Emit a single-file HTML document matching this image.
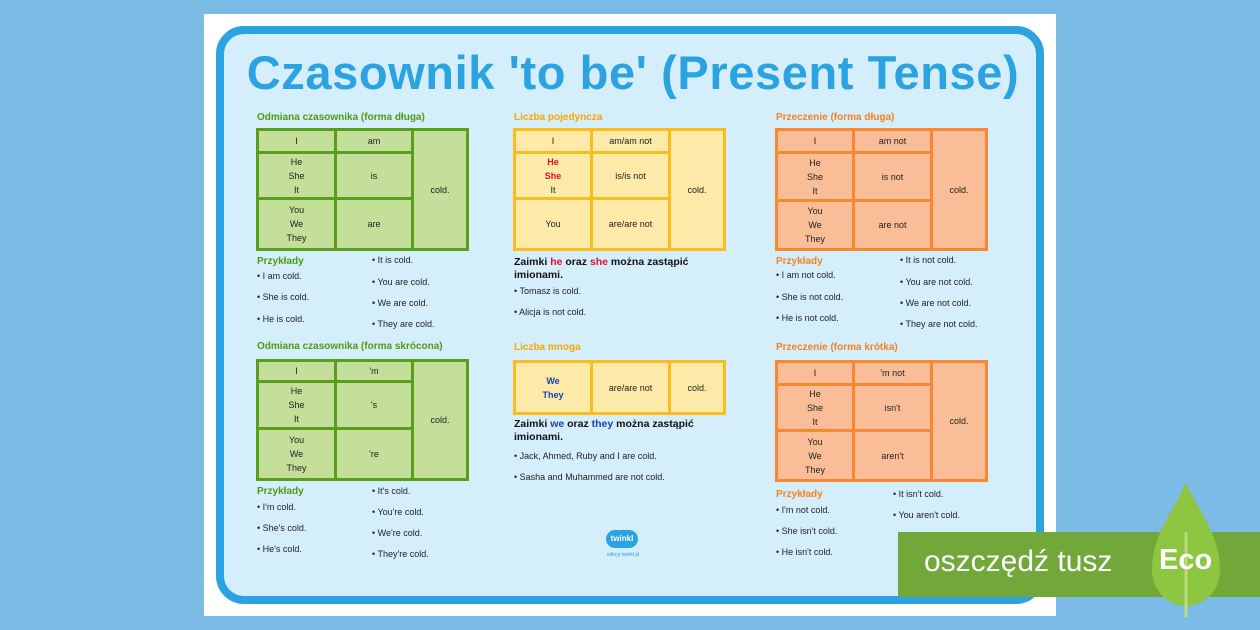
<!DOCTYPE html><html><head><meta charset="utf-8"><style>
*{margin:0;padding:0;box-sizing:border-box}
body{width:1260px;height:630px;overflow:hidden;background:#7dbbe7;font-family:"Liberation Sans",sans-serif;position:relative}
.a{position:absolute}
.t{font-size:9px;color:#222;white-space:nowrap}
.h{font-size:10px;font-weight:bold;white-space:nowrap}
.tb{position:absolute;border:3px solid;}
.c{position:absolute;display:flex;align-items:center;justify-content:center;text-align:center;font-size:9px;line-height:14px;color:#222}
</style></head><body>
<div class="a" style="left:204px;top:14px;width:852px;height:602px;background:#fff"></div>
<div class="a" style="left:216px;top:26px;width:828px;height:578px;border:8px solid #2aa3e0;border-radius:28px;background:#d5eefb"></div>
<div class="a" style="left:216px;top:45px;width:834px;text-align:center;font-size:47px;letter-spacing:0.6px;font-weight:bold;color:#2aa3e0;white-space:nowrap">Czasownik 'to be' (Present Tense)</div>

<div class="h a" style="left:257px;top:112px;color:#4f9a10">Odmiana czasownika (forma długa)</div>
<div class="tb" style="left:256px;top:128px;width:213px;height:123px;border-color:#5a9e1e;background:#c3df9a"></div>
<div class="a" style="left:334px;top:128px;width:3px;height:123px;background:#5a9e1e"></div>
<div class="a" style="left:411px;top:128px;width:3px;height:123px;background:#5a9e1e"></div>
<div class="a" style="left:256px;top:151px;width:157px;height:3px;background:#5a9e1e"></div>
<div class="a" style="left:256px;top:197px;width:157px;height:3px;background:#5a9e1e"></div>
<div class="c" style="left:259px;top:131px;width:75px;height:20px">I</div>
<div class="c" style="left:337px;top:131px;width:74px;height:20px">am</div>
<div class="c" style="left:259px;top:154px;width:75px;height:43px">He<br>She<br>It</div>
<div class="c" style="left:337px;top:154px;width:74px;height:43px">is</div>
<div class="c" style="left:259px;top:200px;width:75px;height:48px">You<br>We<br>They</div>
<div class="c" style="left:337px;top:200px;width:74px;height:48px">are</div>
<div class="c" style="left:414px;top:131px;width:52px;height:117px">cold.</div>
<div class="h a" style="left:257px;top:256px;color:#4f9a10">Przykłady</div>
<div class="t a" style="left:257px;top:271px">• I am cold.</div>
<div class="t a" style="left:257px;top:292px">• She is cold.</div>
<div class="t a" style="left:257px;top:314px">• He is cold.</div>
<div class="t a" style="left:372px;top:255px">• It is cold.</div>
<div class="t a" style="left:372px;top:277px">• You are cold.</div>
<div class="t a" style="left:372px;top:298px">• We are cold.</div>
<div class="t a" style="left:372px;top:319px">• They are cold.</div>

<div class="h a" style="left:257px;top:341px;color:#4f9a10">Odmiana czasownika (forma skrócona)</div>
<div class="tb" style="left:256px;top:359px;width:213px;height:122px;border-color:#5a9e1e;background:#c3df9a"></div>
<div class="a" style="left:334px;top:359px;width:3px;height:122px;background:#5a9e1e"></div>
<div class="a" style="left:411px;top:359px;width:3px;height:122px;background:#5a9e1e"></div>
<div class="a" style="left:256px;top:380px;width:157px;height:3px;background:#5a9e1e"></div>
<div class="a" style="left:256px;top:427px;width:157px;height:3px;background:#5a9e1e"></div>
<div class="c" style="left:259px;top:362px;width:75px;height:18px">I</div>
<div class="c" style="left:337px;top:362px;width:74px;height:18px">'m</div>
<div class="c" style="left:259px;top:383px;width:75px;height:44px">He<br>She<br>It</div>
<div class="c" style="left:337px;top:383px;width:74px;height:44px">'s</div>
<div class="c" style="left:259px;top:430px;width:75px;height:48px">You<br>We<br>They</div>
<div class="c" style="left:337px;top:430px;width:74px;height:48px">'re</div>
<div class="c" style="left:414px;top:362px;width:52px;height:116px">cold.</div>
<div class="h a" style="left:257px;top:486px;color:#4f9a10">Przykłady</div>
<div class="t a" style="left:257px;top:502px">• I'm cold.</div>
<div class="t a" style="left:257px;top:523px">• She's cold.</div>
<div class="t a" style="left:257px;top:544px">• He's cold.</div>
<div class="t a" style="left:372px;top:486px">• It's cold.</div>
<div class="t a" style="left:372px;top:507px">• You're cold.</div>
<div class="t a" style="left:372px;top:528px">• We're cold.</div>
<div class="t a" style="left:372px;top:549px">• They're cold.</div>

<div class="h a" style="left:514px;top:112px;color:#f5a800">Liczba pojedyncza</div>
<div class="tb" style="left:513px;top:128px;width:213px;height:123px;border-color:#fbbd1e;background:#fde9a8"></div>
<div class="a" style="left:590px;top:128px;width:3px;height:123px;background:#fbbd1e"></div>
<div class="a" style="left:668px;top:128px;width:3px;height:123px;background:#fbbd1e"></div>
<div class="a" style="left:513px;top:151px;width:157px;height:3px;background:#fbbd1e"></div>
<div class="a" style="left:513px;top:197px;width:157px;height:3px;background:#fbbd1e"></div>
<div class="c" style="left:516px;top:131px;width:74px;height:20px">I</div>
<div class="c" style="left:593px;top:131px;width:75px;height:20px">am/am not</div>
<div class="c" style="left:516px;top:154px;width:74px;height:43px"><span><b style="color:#e0102a">He<br>She</b><br>It</span></div>
<div class="c" style="left:593px;top:154px;width:75px;height:43px">is/is not</div>
<div class="c" style="left:516px;top:200px;width:74px;height:48px">You</div>
<div class="c" style="left:593px;top:200px;width:75px;height:48px">are/are not</div>
<div class="c" style="left:671px;top:131px;width:52px;height:117px">cold.</div>
<div class="a" style="left:514px;top:256px;font-size:10.5px;font-weight:bold;line-height:13px;color:#111">Zaimki <span style="color:#e0102a">he</span> oraz <span style="color:#e0102a">she</span> można zastąpić<br>imionami.</div>
<div class="t a" style="left:514px;top:286px">• Tomasz is cold.</div>
<div class="t a" style="left:514px;top:307px">• Alicja is not cold.</div>

<div class="h a" style="left:514px;top:342px;color:#f5a800">Liczba mnoga</div>
<div class="tb" style="left:513px;top:360px;width:213px;height:55px;border-color:#fbbd1e;background:#fde9a8"></div>
<div class="a" style="left:590px;top:360px;width:3px;height:55px;background:#fbbd1e"></div>
<div class="a" style="left:668px;top:360px;width:3px;height:55px;background:#fbbd1e"></div>
<div class="c" style="left:516px;top:363px;width:74px;height:49px"><b style="color:#1a3fb0">We<br>They</b></div>
<div class="c" style="left:593px;top:363px;width:75px;height:49px">are/are not</div>
<div class="c" style="left:671px;top:363px;width:52px;height:49px">cold.</div>
<div class="a" style="left:514px;top:418px;font-size:10.5px;font-weight:bold;line-height:13px;color:#111">Zaimki <span style="color:#1a3fb0">we</span> oraz <span style="color:#1a3fb0">they</span> można zastąpić<br>imionami.</div>
<div class="t a" style="left:514px;top:451px">• Jack, Ahmed, Ruby and I are cold.</div>
<div class="t a" style="left:514px;top:472px">• Sasha and Muhammed are not cold.</div>
<div class="a" style="left:606px;top:530px;width:32px;height:18px;border-radius:9px;background:#2aa3e0;color:#fff;font-size:8px;font-weight:bold;text-align:center;line-height:18px">twinkl</div>
<div class="a" style="left:598px;top:552px;width:50px;text-align:center;font-size:5px;color:#2aa3e0">odkryj twinkl.pl</div>

<div class="h a" style="left:776px;top:112px;color:#f58220">Przeczenie (forma długa)</div>
<div class="tb" style="left:775px;top:128px;width:213px;height:123px;border-color:#f7882f;background:#f9be97"></div>
<div class="a" style="left:852px;top:128px;width:3px;height:123px;background:#f7882f"></div>
<div class="a" style="left:930px;top:128px;width:3px;height:123px;background:#f7882f"></div>
<div class="a" style="left:775px;top:151px;width:157px;height:3px;background:#f7882f"></div>
<div class="a" style="left:775px;top:199px;width:157px;height:3px;background:#f7882f"></div>
<div class="c" style="left:778px;top:131px;width:74px;height:20px">I</div>
<div class="c" style="left:855px;top:131px;width:75px;height:20px">am not</div>
<div class="c" style="left:778px;top:154px;width:74px;height:45px">He<br>She<br>It</div>
<div class="c" style="left:855px;top:154px;width:75px;height:45px">is not</div>
<div class="c" style="left:778px;top:202px;width:74px;height:46px">You<br>We<br>They</div>
<div class="c" style="left:855px;top:202px;width:75px;height:46px">are not</div>
<div class="c" style="left:933px;top:131px;width:52px;height:117px">cold.</div>
<div class="h a" style="left:776px;top:256px;color:#f58220">Przykłady</div>
<div class="t a" style="left:776px;top:270px">• I am not cold.</div>
<div class="t a" style="left:776px;top:292px">• She is not cold.</div>
<div class="t a" style="left:776px;top:313px">• He is not cold.</div>
<div class="t a" style="left:900px;top:255px">• It is not cold.</div>
<div class="t a" style="left:900px;top:277px">• You are not cold.</div>
<div class="t a" style="left:900px;top:298px">• We are not cold.</div>
<div class="t a" style="left:900px;top:319px">• They are not cold.</div>

<div class="h a" style="left:776px;top:342px;color:#f58220">Przeczenie (forma krótka)</div>
<div class="tb" style="left:775px;top:360px;width:213px;height:122px;border-color:#f7882f;background:#f9be97"></div>
<div class="a" style="left:852px;top:360px;width:3px;height:122px;background:#f7882f"></div>
<div class="a" style="left:930px;top:360px;width:3px;height:122px;background:#f7882f"></div>
<div class="a" style="left:775px;top:383px;width:157px;height:3px;background:#f7882f"></div>
<div class="a" style="left:775px;top:429px;width:157px;height:3px;background:#f7882f"></div>
<div class="c" style="left:778px;top:363px;width:74px;height:20px">I</div>
<div class="c" style="left:855px;top:363px;width:75px;height:20px">'m not</div>
<div class="c" style="left:778px;top:386px;width:74px;height:43px">He<br>She<br>It</div>
<div class="c" style="left:855px;top:386px;width:75px;height:43px">isn't</div>
<div class="c" style="left:778px;top:432px;width:74px;height:47px">You<br>We<br>They</div>
<div class="c" style="left:855px;top:432px;width:75px;height:47px">aren't</div>
<div class="c" style="left:933px;top:363px;width:52px;height:116px">cold.</div>
<div class="h a" style="left:776px;top:489px;color:#f58220">Przykłady</div>
<div class="t a" style="left:776px;top:505px">• I'm not cold.</div>
<div class="t a" style="left:776px;top:526px">• She isn't cold.</div>
<div class="t a" style="left:776px;top:547px">• He isn't cold.</div>
<div class="t a" style="left:893px;top:489px">• It isn't cold.</div>
<div class="t a" style="left:893px;top:510px">• You aren't cold.</div>

<div class="a" style="left:898px;top:532px;width:362px;height:65px;background:#72a83a"></div>
<svg class="a" style="left:1148px;top:480px" width="76" height="140" viewBox="0 0 76 140">
<path d="M38 3 C50 30 72 55 72 90 A34 36 0 0 1 4 90 C4 55 26 30 38 3Z" fill="#8dc641"/>
<rect x="36.5" y="52" width="3" height="85" fill="#b9dc7e"/>
</svg>
<div class="a" style="left:924px;top:545px;font-size:30px;color:#fff;white-space:nowrap">oszczędź tusz</div>
<div class="a" style="left:1159px;top:544px;font-size:29px;font-weight:bold;color:#fff">Eco</div>
</body></html>
